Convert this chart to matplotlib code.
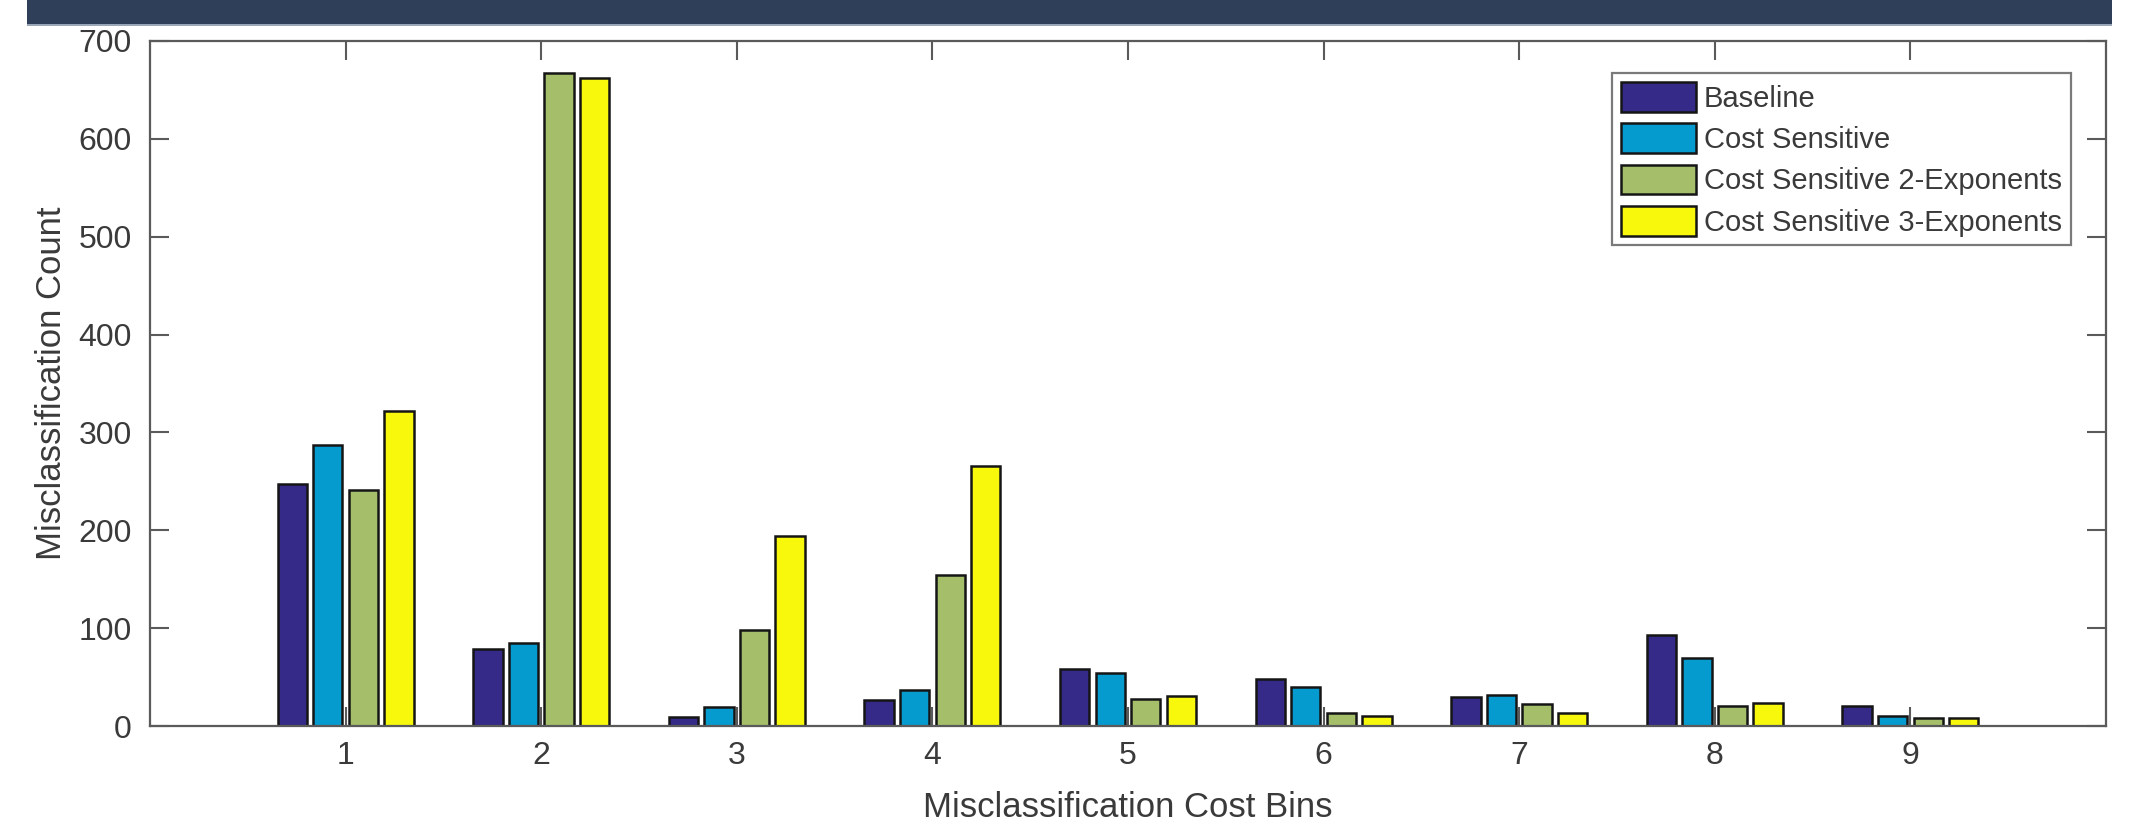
import numpy as np
import matplotlib.pyplot as plt
from matplotlib.patches import Rectangle

plt.rcParams['font.family'] = ['Liberation Sans', 'DejaVu Sans']

bins = [1, 2, 3, 4, 5, 6, 7, 8, 9]
series_names = ['Baseline', 'Cost Sensitive',
                'Cost Sensitive 2-Exponents', 'Cost Sensitive 3-Exponents']
baseline = [247, 79, 9, 27, 58, 48, 30, 93, 20]
cost_sensitive = [287, 85, 19, 37, 54, 40, 32, 69, 10]
cost_2exp = [241, 667, 98, 154, 28, 13, 22, 20, 8]
cost_3exp = [322, 662, 194, 266, 31, 10, 13, 24, 8]
colors = ['#352a87', '#059bcf', '#a5be6a', '#f8f80c']

fig = plt.figure(figsize=(21.32, 8.26), dpi=100)
fig.patch.set_facecolor('white')

# dark banner at the very top
fig.patches.append(Rectangle((27 / 2132, 1 - 24 / 826), (2112 - 27) / 2132, 24 / 826,
                             transform=fig.transFigure, facecolor='#2f3f5a',
                             edgecolor='none', zorder=0))
fig.patches.append(Rectangle((27 / 2132, 1 - 26 / 826), (2112 - 27) / 2132, 2 / 826,
                             transform=fig.transFigure, facecolor='#9aa6b8',
                             edgecolor='none', zorder=0))

ax = fig.add_axes([150 / 2132, 100 / 826, 1956 / 2132, 685 / 826])

x = np.array(bins)
step = 0.7273 / 4
width = 0.15
all_series = [baseline, cost_sensitive, cost_2exp, cost_3exp]
for i, (vals, name, col) in enumerate(zip(all_series, series_names, colors)):
    ax.bar(x + (i - 1.5) * step, vals, width, color=col, edgecolor='#151515',
           linewidth=1.8, label=name, zorder=2)

ax.set_xlim(0, 10)
ax.set_ylim(0, 700)
ax.set_xticks(bins)
ax.set_yticks(range(0, 701, 100))

axis_col = '#5a5a5a'
for sp in ax.spines.values():
    sp.set_color(axis_col)
    sp.set_linewidth(1.6)
ax.tick_params(direction='in', length=14, width=1.5, color=axis_col,
               labelsize=23, labelcolor='#3a3a3a', top=True, right=True)
ax.tick_params(axis='y', pad=13)
ax.tick_params(axis='x', pad=11)

ax.set_xlabel('Misclassification Cost Bins', fontsize=25, color='#3a3a3a')
ax.set_ylabel('Misclassification Count', fontsize=25, color='#3a3a3a')
ax.xaxis.set_label_coords(0.5, -0.095)
ax.yaxis.set_label_coords(-0.042, 0.5)

leg = ax.legend(loc='upper right', bbox_to_anchor=(0.982, 0.953), fontsize=21,
                handlelength=2.57, handleheight=1.2, handletextpad=0.28,
                labelspacing=0.36, borderpad=0.3, borderaxespad=0,
                fancybox=False, framealpha=1)
leg.get_frame().set_edgecolor('#7a7a7a')
leg.get_frame().set_linewidth(1.6)
for t in leg.get_texts():
    t.set_color('#3a3a3a')

fig.savefig('out.png', dpi=100)
